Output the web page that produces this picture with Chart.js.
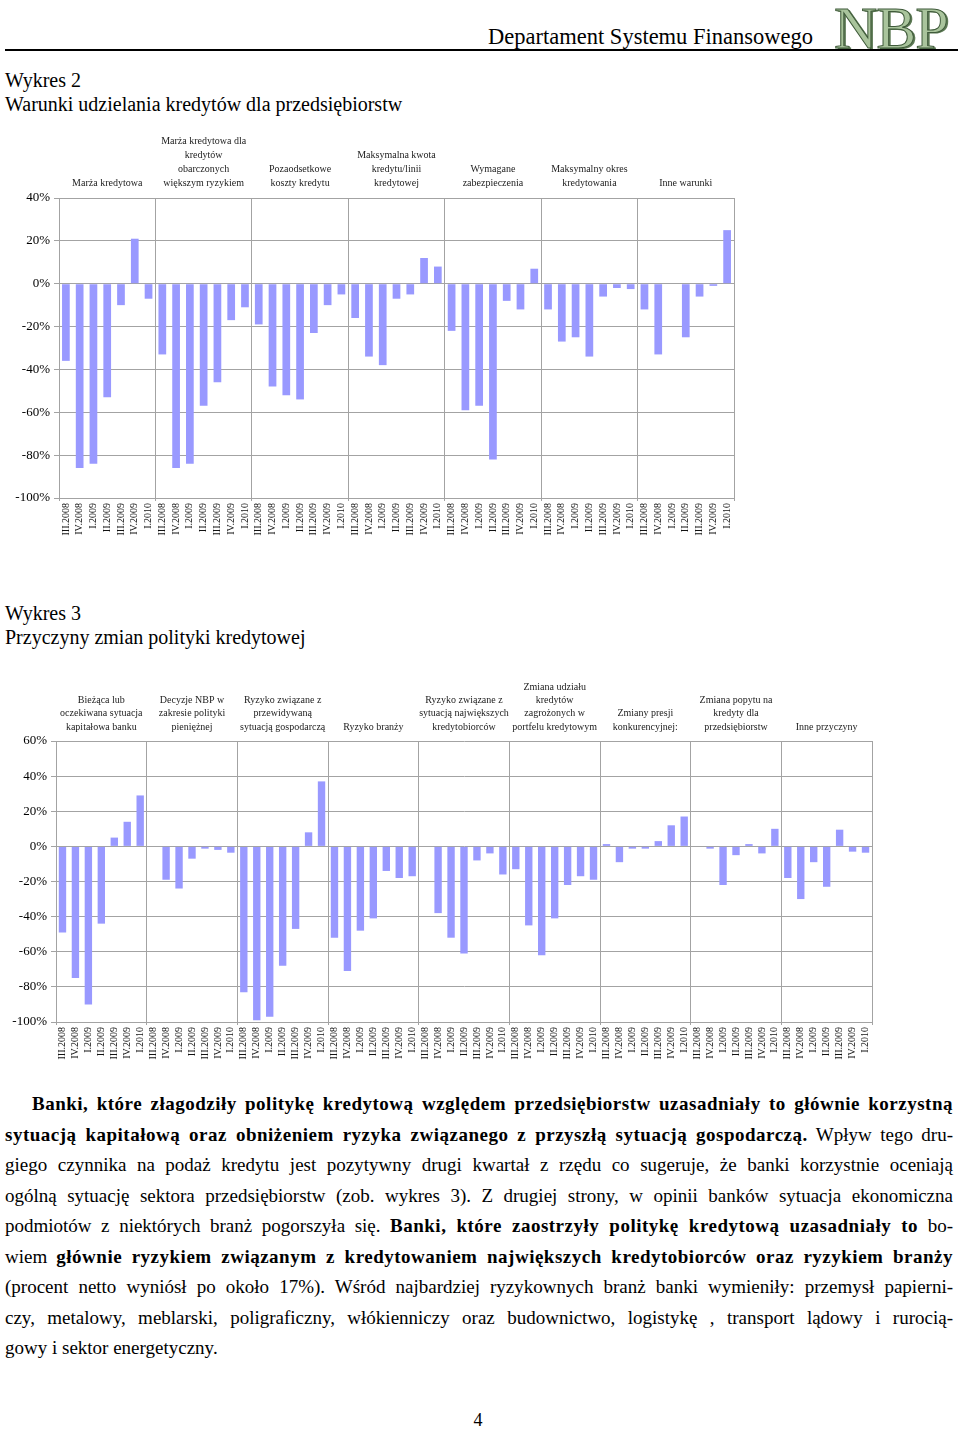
<!DOCTYPE html>
<html lang="pl">
<head>
<meta charset="utf-8">
<script src="https://cdn.jsdelivr.net/npm/chart.js@4.4.1/dist/chart.umd.min.js"></script>
<style>
    body { margin: 0; background: #fff; font-family: 'Liberation Serif', 'Times New Roman', serif; color: #000; }
    #page { position: relative; width: 960px; height: 1432px; overflow: hidden; }
    .abs { position: absolute; }
    #dept { right: 147px; top: 24px; font-size: 22.5px; white-space: nowrap; }
    #logo { left: 834px; top: -6px; font-size: 60px; color: #a9c49c; -webkit-text-stroke: 1px #3f5a3a; text-shadow: 2px 1px 0 #5d7a55; letter-spacing: -1px; }
    #rule { left: 5px; top: 49px; width: 953px; height: 2px; background: #000; }
    .title { left: 5px; font-size: 20px; line-height: 24px; }
    .para { left: 5px; width: 948px; font-size: 19px; line-height: 30.5px; }
    .para div { height: 30.5px; text-align: justify; text-align-last: justify; white-space: nowrap; }
    .para div.last { text-align-last: left; }
    .para b { letter-spacing: 0.5px; }
    #pnum { left: 0; width: 956px; top: 1410px; text-align: center; font-size: 18px; }
</style>
</head>
<body>
<div id="page">
    <div id="dept" class="abs">Departament Systemu Finansowego</div>
    <div id="logo" class="abs">NBP</div>
    <div id="rule" class="abs"></div>

    <div class="abs title" style="top:68px">Wykres 2<br>Warunki udzielania kredytów dla przedsiębiorstw</div>
    <canvas id="warunkiChart" class="abs" width="745" height="430" style="left:0;top:120px"></canvas>

    <div class="abs title" style="top:601px">Wykres 3<br>Przyczyny zmian polityki kredytowej</div>
    <canvas id="przyczynyChart" class="abs" width="885" height="410" style="left:0;top:660px"></canvas>

    <div class="abs para" style="top:1089px">
        <div style="padding-left:27px"><b>Banki, które złagodziły politykę kredytową względem przedsiębiorstw uzasadniały to głównie korzystną</b></div>
        <div><b>sytuacją kapitałową oraz obniżeniem ryzyka związanego z przyszłą sytuacją gospodarczą.</b> Wpływ tego dru-</div>
        <div>giego czynnika na podaż kredytu jest pozytywny drugi kwartał z rzędu co sugeruje, że banki korzystnie oceniają</div>
        <div>ogólną sytuację sektora przedsiębiorstw (zob. wykres 3). Z drugiej strony, w opinii banków sytuacja ekonomiczna</div>
        <div>podmiotów z niektórych branż pogorszyła się. <b>Banki, które zaostrzyły politykę kredytową uzasadniały to</b> bo-</div>
        <div>wiem <b>głównie ryzykiem związanym z kredytowaniem największych kredytobiorców oraz ryzykiem branży</b></div>
        <div>(procent netto wyniósł po około 17%). Wśród najbardziej ryzykownych branż banki wymieniły: przemysł papierni-</div>
        <div>czy, metalowy, meblarski, poligraficzny, włókienniczy oraz budownictwo, logistykę , transport lądowy i rurocią-</div>
        <div class="last">gowy i sektor energetyczny.</div>
    </div>

    <div id="pnum" class="abs">4</div>
</div>

<script>
// quarters repeated inside every group
const quarters = ['III.2008', 'IV.2008', 'I.2009', 'II.2009', 'III.2009', 'IV.2009', 'I.2010'];

// Wykres 2 - group headers (one entry per line) and net percentages
const warunkiGroups = [
    ['Marża kredytowa'],
    ['Marża kredytowa dla', 'kredytów', 'obarczonych', 'większym ryzykiem'],
    ['Pozaodsetkowe', 'koszty kredytu'],
    ['Maksymalna kwota', 'kredytu/linii', 'kredytowej'],
    ['Wymagane', 'zabezpieczenia'],
    ['Maksymalny okres', 'kredytowania'],
    ['Inne warunki']
];
const warunkiValues = [
    [-36, -86, -84, -53, -10, 21, -7],
    [-33, -86, -84, -57, -46, -17, -11],
    [-19, -48, -52, -54, -23, -10, -5],
    [-16, -34, -38, -7, -5, 12, 8],
    [-22, -59, -57, -82, -8, -12, 7],
    [-12, -27, -25, -34, -6, -2, -2.5],
    [-12, -33, 0, -25, -6, -1, 25]
];

// Wykres 3
const przyczynyGroups = [
    ['Bieżąca lub', 'oczekiwana sytuacja', 'kapitałowa banku'],
    ['Decyzje NBP w', 'zakresie polityki', 'pieniężnej'],
    ['Ryzyko związane z', 'przewidywaną', 'sytuacją gospodarczą'],
    ['Ryzyko branży'],
    ['Ryzyko związane z', 'sytuacją największych', 'kredytobiorców'],
    ['Zmiana udziału', 'kredytów', 'zagrożonych w', 'portfelu kredytowym'],
    ['Zmiany presji', 'konkurencyjnej:'],
    ['Zmiana popytu na', 'kredyty dla', 'przedsiębiorstw'],
    ['Inne przyczyny']
];
const przyczynyValues = [
    [-49, -75, -90, -44, 5, 14, 29],
    [0, -19, -24, -7, -1.3, -2, -3.6],
    [-83, -99, -97, -68, -47, 8, 37],
    [-52, -71, -48, -41, -14, -18, -17],
    [0, -38, -52, -61, -8, -4, -16],
    [-13, -45, -62, -41, -22, -17, -19],
    [1.3, -9, -1.3, -1.3, 3, 12, 17],
    [0, -1.3, -22, -5, 1.3, -4, 10],
    [-18, -30, -9, -23, 9.5, -3, -3.6]
];

const warunkiRange = [-100, 40];
const przyczynyRange = [-100, 60];

const SERIF = "'Liberation Serif', 'Times New Roman', serif";
const GRID = '#a3a3a3';
const BAR = '#9999ff';

// group headers above the plot
const groupLabels = {
    id: 'groupLabels',
    afterDraw(chart, args, opts) {
        const { ctx, chartArea, scales: { x } } = chart;
        const n = quarters.length;
        ctx.save();
        ctx.font = '10px ' + SERIF;
        ctx.fillStyle = '#222';
        ctx.textAlign = 'center';
        ctx.textBaseline = 'middle';
        opts.groups.forEach((lines, g) => {
            const cx = (x.getPixelForValue(g * n) + x.getPixelForValue(g * n + n - 1)) / 2;
            lines.forEach((line, i) => {
                const y = chartArea.top - opts.gap - (lines.length - 1 - i) * opts.lineHeight;
                ctx.fillText(line, cx, y);
            });
        });
        ctx.restore();
    }
};

function makeChart(id, groups, values, range, box) {
    const labels = [];
    const data = [];
    values.forEach(v => { quarters.forEach(q => labels.push(q)); v.forEach(d => data.push(d)); });

    return new Chart(document.getElementById(id), {
        type: 'bar',
        data: {
            labels: labels,
            datasets: [{
                data: data,
                backgroundColor: BAR,
                borderWidth: 0,
                categoryPercentage: 1,
                barPercentage: box.bar
            }]
        },
        options: {
            responsive: false,
            animation: false,
            layout: { padding: { top: box.top, right: box.right, left: 0, bottom: 0 } },
            plugins: {
                legend: { display: false },
                tooltip: { enabled: false },
                groupLabels: { groups: groups, gap: box.gap, lineHeight: box.lineHeight }
            },
            scales: {
                x: {
                    afterFit: s => { s.height = box.xHeight; },
                    grid: {
                        color: c => (c.index === undefined || c.index % quarters.length === 0) ? GRID : 'rgba(0,0,0,0)',
                        tickLength: 3
                    },
                    border: { color: GRID },
                    ticks: {
                        autoSkip: false, maxRotation: 90, minRotation: 90, padding: 2,
                        color: '#111', font: { family: SERIF, size: 10 }
                    }
                },
                y: {
                    min: range[0], max: range[1],
                    afterFit: s => { s.width = box.yWidth; },
                    grid: { color: GRID, tickLength: 5 },
                    border: { color: GRID },
                    ticks: {
                        stepSize: 20, padding: 4, color: '#000',
                        font: { family: SERIF, size: 13 },
                        callback: v => v + '%'
                    }
                }
            }
        },
        plugins: [groupLabels]
    });
}

makeChart('warunkiChart', warunkiGroups, warunkiValues, warunkiRange,
    { top: 78, right: 11, yWidth: 59, xHeight: 52, gap: 15, lineHeight: 14, bar: 0.56 });
makeChart('przyczynyChart', przyczynyGroups, przyczynyValues, przyczynyRange,
    { top: 81, right: 13, yWidth: 56, xHeight: 48, gap: 14, lineHeight: 13.3, bar: 0.57 });
</script>
</body>
</html>
